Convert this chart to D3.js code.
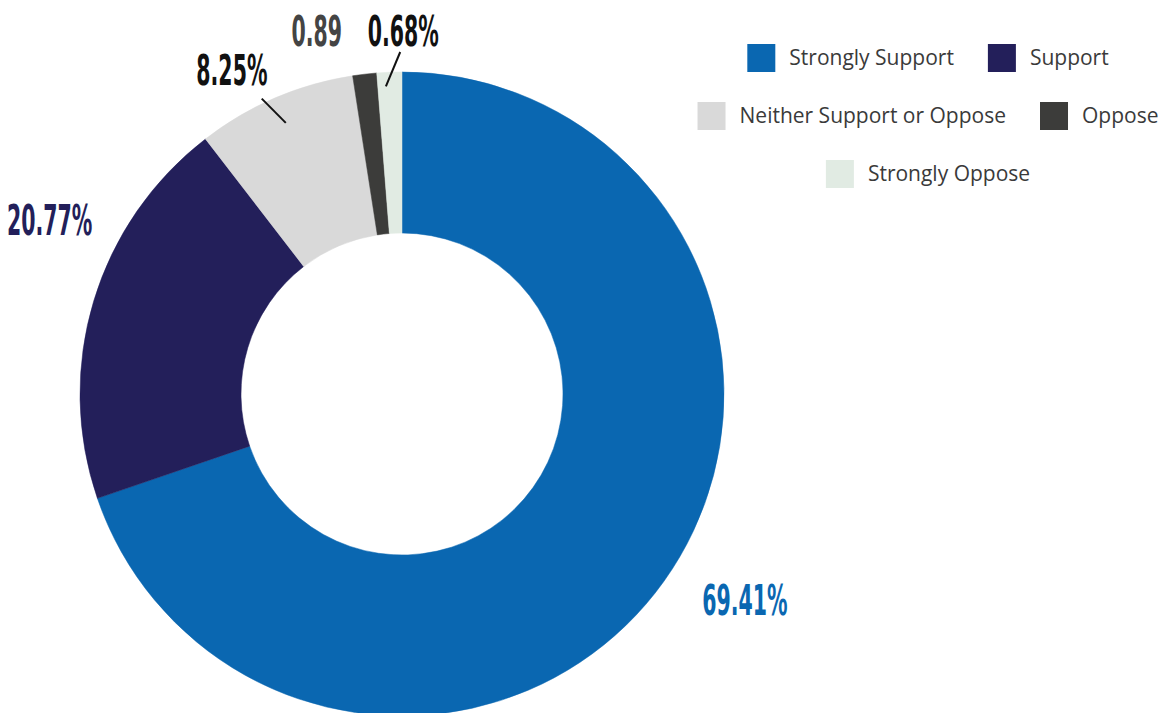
<!DOCTYPE html>
<html>
<head>
<meta charset="utf-8">
<script src="https://cdn.jsdelivr.net/npm/d3@7"></script>
<style>
  body { margin: 0; background: #fff; }
  svg { display: block; }
</style>
</head>
<body>
<svg id="chart" width="1162" height="713"></svg>
<script>
// survey answers, clockwise from 12 o'clock
var categories = ["Strongly Support", "Support", "Neither Support or Oppose", "Oppose", "Strongly Oppose"];
// wedge sizes as drawn in the picture (they differ a little from the printed labels)
var values = [69.75, 19.8, 8.0, 1.2, 1.25];
var labels = ["69.41%", "20.77%", "8.25%", "0.89", "0.68%"];
var colors = ["#0a67b1", "#231f5a", "#d9d9d9", "#3c3c3a", "#e1ebe3"];
var labelColors = ["#0a67b1", "#231f5a", "#111111", "#444444", "#111111"];

// label placement (polar, degrees from top) and leader lines
var labelPos = [
  {a: 121, r: 400},
  {a: 296.3, r: 393},
  {a: 332.3, r: 366},
  {a: 346.8, r: 373},
  {a: 0.2, r: 363}
];
var leaders = [null, null, {a0: 336.8, r0: 295, a1: 334.6, r1: 327}, null, {a0: 357, r0: 308, a1: 359.7, r1: 342}];

var svg = d3.select("#chart");
var cx = 402, cy = 394, R = 322, r = 161;

var pie = d3.pie().sort(null).value(function(d) { return d; });
var arc = d3.arc().innerRadius(r).outerRadius(R);

var g = svg.append("g").attr("transform", "translate(" + cx + "," + cy + ")");

g.selectAll("path.slice")
  .data(pie(values))
  .enter().append("path")
  .attr("class", "slice")
  .attr("d", arc)
  .attr("fill", function(d, i) { return colors[i]; })
  .attr("stroke", function(d, i) { return colors[i]; })
  .attr("stroke-width", 0.5);

function polar(a, rad) {
  var t = a * Math.PI / 180;
  return [rad * Math.sin(t), -rad * Math.cos(t)];
}

g.selectAll("line.leader")
  .data(leaders.filter(function(d) { return d; }))
  .enter().append("line")
  .attr("class", "leader")
  .attr("x1", function(d) { return polar(d.a0, d.r0)[0]; })
  .attr("y1", function(d) { return polar(d.a0, d.r0)[1]; })
  .attr("x2", function(d) { return polar(d.a1, d.r1)[0]; })
  .attr("y2", function(d) { return polar(d.a1, d.r1)[1]; })
  .attr("stroke", "#111")
  .attr("stroke-width", 2);

g.selectAll("text.lbl")
  .data(labels)
  .enter().append("text")
  .attr("class", "lbl")
  .attr("transform", function(d, i) {
    var p = polar(labelPos[i].a, labelPos[i].r);
    return "translate(" + p[0] + "," + p[1] + ") scale(0.53,1)";
  })
  .attr("text-anchor", "middle")
  .attr("dy", "0.36em")
  .style("font-family", "'Liberation Sans Narrow', 'DejaVu Sans Condensed', sans-serif")
  .style("font-weight", "bold")
  .style("font-size", "43px")
  .attr("fill", function(d, i) { return labelColors[i]; })
  .text(function(d) { return d; });

// legend, three centred rows
var legendRows = [[0, 1], [2, 3], [4]];
var legendCenter = 928;
var sw = 28, gap = 14, itemGap = 34;
var legend = svg.append("g").attr("class", "legend");

legendRows.forEach(function(row, ri) {
  var rowG = legend.append("g");
  var items = rowG.selectAll("g.item").data(row).enter().append("g").attr("class", "item");
  items.append("rect")
    .attr("width", sw).attr("height", sw)
    .attr("fill", function(d) { return colors[d]; });
  items.append("text")
    .attr("x", sw + gap)
    .attr("y", sw / 2)
    .attr("dy", "0.35em")
    .style("font-family", "'Open Sans', sans-serif")
    .style("font-size", "21px")
    .attr("fill", "#3a3a3a")
    .text(function(d) { return categories[d]; });
  var x = 0;
  items.each(function() {
    var w = this.getBBox().width;
    d3.select(this).attr("transform", "translate(" + x + ",0)");
    x += w + itemGap;
  });
  var total = x - itemGap;
  rowG.attr("transform", "translate(" + (legendCenter - total / 2) + "," + (44 + ri * 58) + ")");
});
</script>
</body>
</html>
